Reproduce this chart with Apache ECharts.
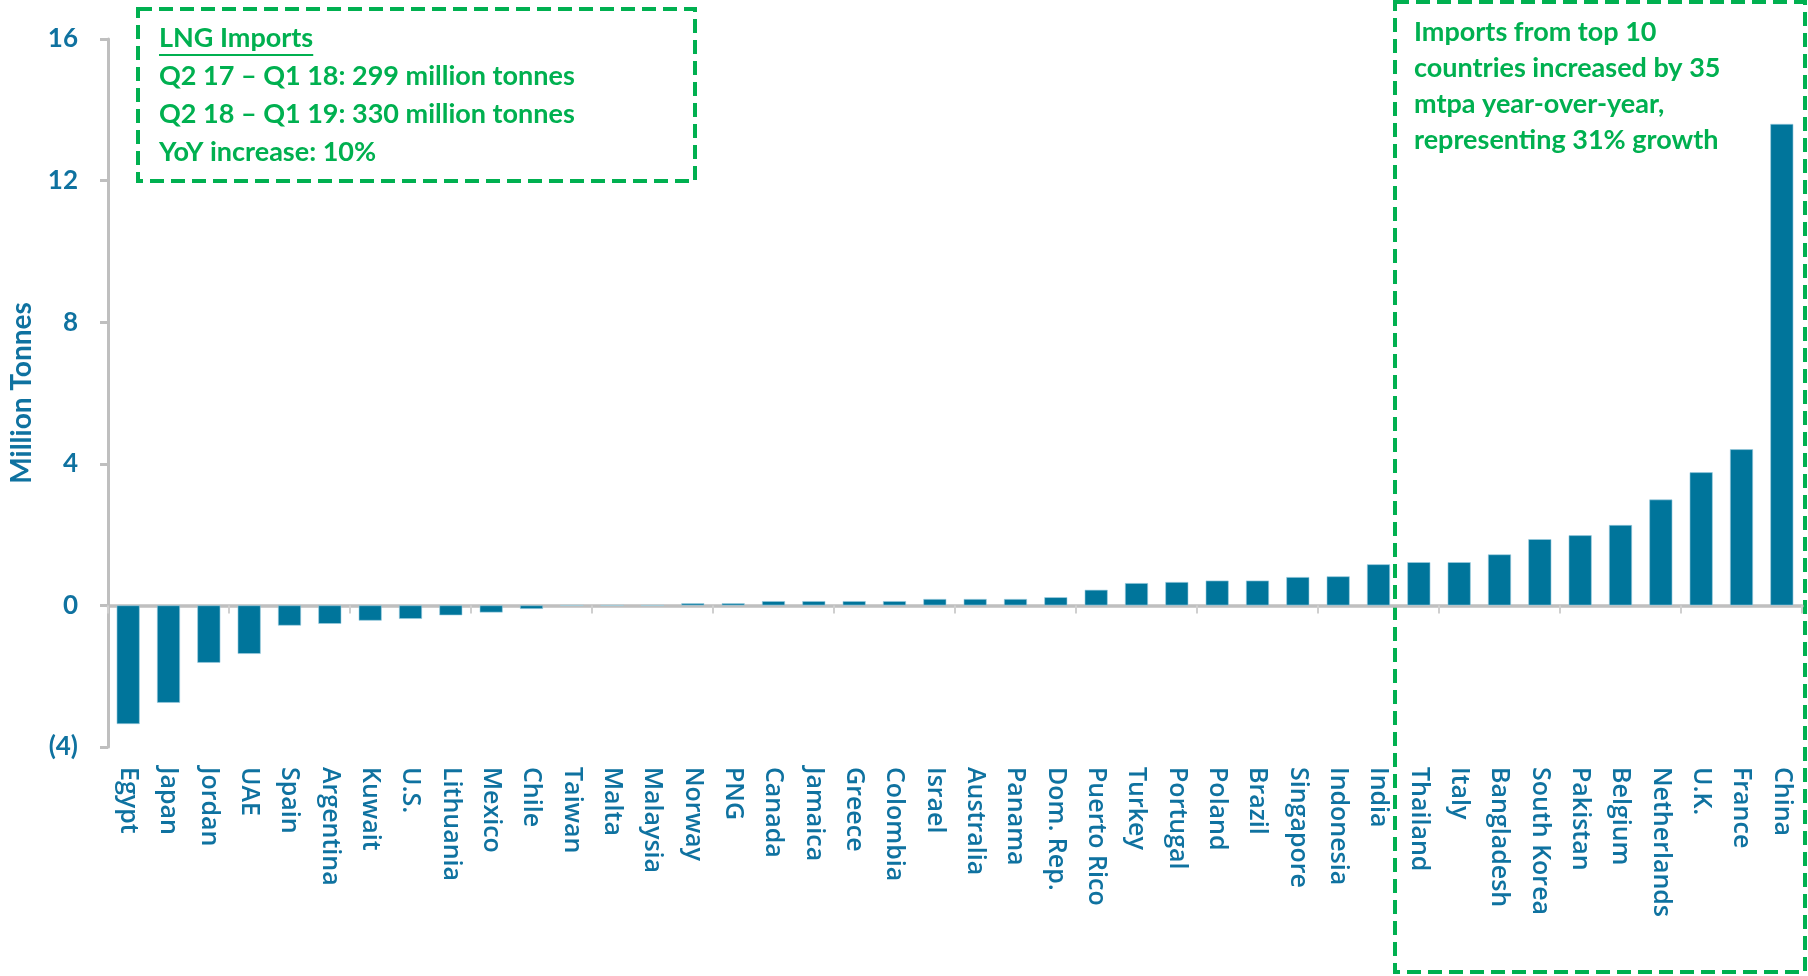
<!DOCTYPE html>
<html>
<head>
<meta charset="utf-8">
<title>LNG imports change by country</title>
<script src="https://cdn.jsdelivr.net/npm/echarts@6/dist/echarts.min.js"></script>
<style>
  html, body { margin: 0; padding: 0; background: #fff; }
  #chart { width: 1808px; height: 976px; }
</style>
</head>
<body>
<div id="chart"></div>
<script>
// year-over-year change in LNG imports, million tonnes
const countries = ['Egypt', 'Japan', 'Jordan', 'UAE', 'Spain', 'Argentina', 'Kuwait', 'U.S.', 'Lithuania', 'Mexico',
  'Chile', 'Taiwan', 'Malta', 'Malaysia', 'Norway', 'PNG', 'Canada', 'Jamaica', 'Greece', 'Colombia',
  'Israel', 'Australia', 'Panama', 'Dom. Rep.', 'Puerto Rico', 'Turkey', 'Portugal', 'Poland', 'Brazil', 'Singapore',
  'Indonesia', 'India', 'Thailand', 'Italy', 'Bangladesh', 'South Korea', 'Pakistan', 'Belgium', 'Netherlands', 'U.K.',
  'France', 'China'];
const importChange = [-3.35, -2.75, -1.62, -1.37, -0.57, -0.52, -0.43, -0.38, -0.28, -0.2,
  -0.1, 0, 0, 0, 0.06, 0.06, 0.12, 0.12, 0.12, 0.12,
  0.18, 0.18, 0.18, 0.23, 0.44, 0.63, 0.66, 0.7, 0.7, 0.8,
  0.82, 1.16, 1.22, 1.22, 1.44, 1.87, 1.98, 2.27, 2.99, 3.76,
  4.41, 13.6];
const yMin = -4;
const yMax = 16;
const yStep = 4;

const leftNote = ['LNG Imports', 'Q2 17 \u2013 Q1 18: 299 million tonnes', 'Q2 18 \u2013 Q1 19: 330 million tonnes', 'YoY increase: 10%'];
const rightNote = ['Imports from top 10', 'countries increased by 35', 'mtpa year-over-year,', 'representing 31% growth'];

const barColor = '#00759b';
const textBlue = '#0f72a0';
const green = '#00b050';
const axisGray = '#bfbfbf';
const noteFont = 'bold 27px Lato';

// width of the underlined heading
const ctx = document.createElement('canvas').getContext('2d');
ctx.font = noteFont;
const headWidth = ctx.measureText(leftNote[0]).width;

const noteText = (lines, x, y0, step) => lines.map((t, i) => ({
  type: 'text',
  left: x,
  top: y0 + i * step - 16,
  style: { text: t, fill: green, font: noteFont }
}));

const chart = echarts.init(document.getElementById('chart'));

const option = {
  animation: false,
  backgroundColor: '#fff',
  grid: { left: 104, right: 6, top: 39, bottom: 229, containLabel: false },
  xAxis: [{
    type: 'category',
    data: countries,
    position: 'bottom',
    axisLine: { show: false, onZero: false },
    axisTick: { show: false },
    axisLabel: {
      interval: 0,
      rotate: -90,
      margin: 20,
      color: textBlue,
      fontFamily: 'Open Sans',
      fontWeight: 600,
      fontSize: 25
    }
  }, {
    type: 'category',
    data: countries,
    position: 'top',
    axisLine: { show: true, onZero: true, lineStyle: { color: axisGray, width: 3.5 } },
    axisTick: { show: true, inside: true, length: 8, lineStyle: { color: '#cfcfcf', width: 2 } },
    axisLabel: { show: false }
  }],
  yAxis: {
    type: 'value',
    min: yMin,
    max: yMax,
    interval: yStep,
    name: 'Million Tonnes',
    nameLocation: 'middle',
    nameGap: 72,
    nameTextStyle: { color: textBlue, fontFamily: 'Lato', fontWeight: 'bold', fontSize: 28 },
    axisLine: { show: true, lineStyle: { color: axisGray, width: 3 } },
    axisTick: { show: true, length: 8, lineStyle: { color: axisGray, width: 3 } },
    splitLine: { show: false },
    axisLabel: {
      margin: 30,
      color: textBlue,
      fontFamily: 'Lato',
      fontWeight: 'bold',
      fontSize: 26,
      formatter: v => v < 0 ? '(' + Math.abs(v) + ')' : String(v)
    }
  },
  series: [{
    type: 'bar',
    xAxisIndex: 0,
    data: importChange,
    barCategoryGap: '43%',
    itemStyle: { color: barColor, borderColor: '#9fcfe0', borderWidth: 0.6 }
  }],
  graphic: [
    {
      type: 'rect',
      shape: { x: 138, y: 9, width: 557, height: 172 },
      style: { fill: 'none', stroke: green, lineWidth: 4, lineDash: [14, 7] }
    },
    {
      type: 'rect',
      shape: { x: 1395, y: 2, width: 410, height: 970 },
      style: { fill: 'none', stroke: green, lineWidth: 4, lineDash: [14, 7] }
    },
    ...noteText(leftNote, 159, 41, 38),
    {
      type: 'line',
      shape: { x1: 159, y1: 55, x2: 159 + headWidth, y2: 55 },
      style: { stroke: green, lineWidth: 2 }
    },
    ...noteText(rightNote, 1414, 35, 36)
  ]
};

chart.setOption(option);
</script>
</body>
</html>
